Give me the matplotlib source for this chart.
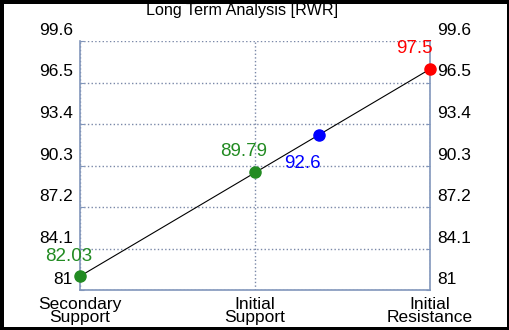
import matplotlib.pyplot as plt
from matplotlib.transforms import ScaledTranslation

plt.rcParams['font.family'] = ['Liberation Sans', 'DejaVu Sans']

# chart data
categories = ["Secondary\nSupport", "Initial\nSupport", "Initial\nResistance"]
y_ticks = [81, 84.1, 87.2, 90.3, 93.4, 96.5, 99.6]
secondary_support = 82.03
initial_support = 89.79
current_price = 92.6
initial_resistance = 97.5

fig = plt.figure(figsize=(5.1, 3.3), dpi=100, facecolor='white',
                 edgecolor='black', linewidth=5)
ax = fig.add_axes([80 / 510, 40 / 330, 350 / 510, 249 / 330])

grid_col = '#7a88a8'
spine_col = '#8196bb'

# trend line from secondary support to resistance
ax.plot([0, 2], [secondary_support, initial_resistance], color='black', lw=0.8, zorder=2)

# current price sits on the trend line
cur_x = (current_price - secondary_support) / (initial_resistance - secondary_support) * 2

pts = [
    (0, secondary_support, '#228b22', (-11, 20)),
    (1, initial_support, '#228b22', (-11, 21)),
    (cur_x, current_price, '#0000ff', (-17, -29)),
    (2, initial_resistance, '#ff0000', (-16, 21)),
]
for x, y, c, off in pts:
    ax.plot(x, y, 'o', color=c, ms=8, clip_on=False, zorder=3)
    ax.annotate(f"{y:g}", (x, y), xytext=off, textcoords='offset pixels',
                ha='center', va='center', color=c, fontsize=13.5)

ax.set_xlim(0, 2)
ax.set_ylim(y_ticks[0], y_ticks[-1])
ax.set_xticks([0, 1, 2])
ax.set_xticklabels(categories, linespacing=0.85)
ax.set_yticks(y_ticks)
ax.set_yticklabels([f"{v:g}" for v in y_ticks])

ax.grid(True, color=grid_col, linestyle=':', linewidth=1)
ax.tick_params(axis='y', direction='in', length=3, color=spine_col, labelsize=12.5,
               pad=5, right=True, labelright=True)
ax.tick_params(axis='x', length=0, labelsize=12.5, pad=5)
ax.spines['top'].set_visible(False)
for s in ['left', 'right', 'bottom']:
    ax.spines[s].set_color(spine_col)
    ax.spines[s].set_linewidth(1.2)

# y tick labels sit above their grid lines
offset = ScaledTranslation(0, 12 / 100, fig.dpi_scale_trans)
for tick in ax.yaxis.get_major_ticks():
    tick.label1.set_transform(tick.label1.get_transform() + offset)
    tick.label2.set_transform(tick.label2.get_transform() + offset)

fig.text(0.475, 1 - 15 / 330, "Long Term Analysis [RWR]", ha='center', va='baseline',
         fontsize=11.6)

fig.savefig("out.png", dpi=100, facecolor=fig.get_facecolor(), edgecolor=fig.get_edgecolor())
